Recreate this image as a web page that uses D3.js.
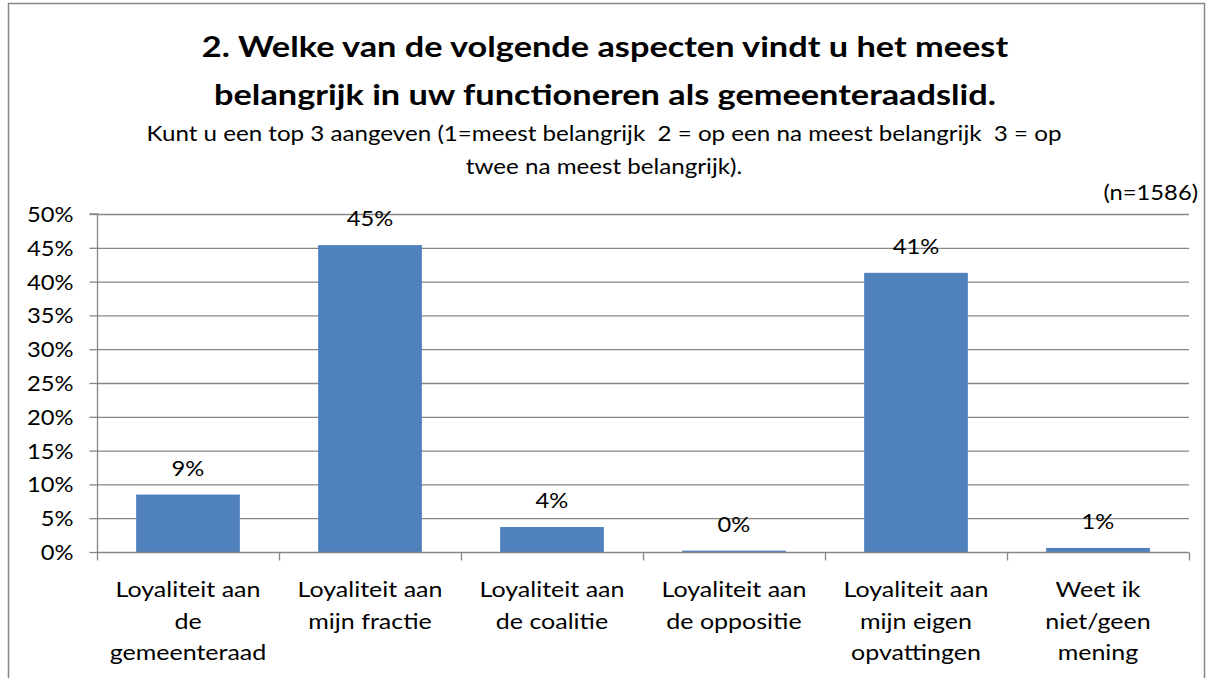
<!DOCTYPE html>
<html><head><meta charset="utf-8">
<script src="https://cdn.jsdelivr.net/npm/d3@7"></script>
<style>body{margin:0;background:#fff}svg text{font-family:Lato,"Open Sans",sans-serif;fill:#000;white-space:pre}</style>
</head><body>
<svg id="c" width="1208" height="678"></svg>
<script>
const categories = [
  ["Loyaliteit aan","de","gemeenteraad"],
  ["Loyaliteit aan","mijn fractie"],
  ["Loyaliteit aan","de coalitie"],
  ["Loyaliteit aan","de oppositie"],
  ["Loyaliteit aan","mijn eigen","opvattingen"],
  ["Weet ik","niet/geen","mening"]
];
const values = [8.5, 45.4, 3.7, 0.2, 41.3, 0.6];
const yTicks = [0,5,10,15,20,25,30,35,40,45,50];
const titleLines = ["2. Welke van de volgende aspecten vindt u het meest","belangrijk in uw functioneren als gemeenteraadslid."];
const subtitleLines = ["Kunt u een top 3 aangeven (1=meest belangrijk  2 = op een na meest belangrijk  3 = op","twee na meest belangrijk)."];
const nLabel = "(n=1586)";

const svg = d3.select("#c");
function stretch(sel, f){
  sel.each(function(){
    const l = this.getComputedTextLength();
    this.setAttribute("textLength", l*f);
    this.setAttribute("lengthAdjust","spacingAndGlyphs");
  });
}
const FS = "21px", SF = 1.13;

// outer border
svg.append("rect").attr("x",8.5).attr("y",3.5).attr("width",1196).attr("height",690)
  .attr("fill","none").attr("stroke","#868686").attr("stroke-width",1.5);

const L=97, R=1189, T=214, B=552;
const x = d3.scaleBand().domain(d3.range(categories.length)).range([L,R]).paddingInner(0.43).paddingOuter(0.215);
const xb = d3.scaleBand().domain(d3.range(categories.length)).range([L,R]);
const y = d3.scaleLinear().domain([0,50]).range([B,T]);

// gridlines
svg.append("g").selectAll("line").data(yTicks.filter(d=>d>0)).join("line")
  .attr("x1",L).attr("x2",R).attr("y1",d=>y(d)+0.5).attr("y2",d=>y(d)+0.5)
  .attr("stroke","#868686").attr("stroke-width",1.3);

// y axis
const ya = svg.append("g").attr("transform",`translate(${L+0.5},0)`)
  .call(d3.axisLeft(y).tickValues(yTicks).tickFormat(d=>d+"%").tickSize(8).tickPadding(16));
ya.select(".domain").attr("stroke","#868686").attr("stroke-width",1.3).attr("d",`M-8,${T}H0V${B}`);
ya.selectAll(".tick line").attr("stroke","#868686").attr("stroke-width",1.3);
ya.selectAll(".tick text").style("font-size",FS).attr("dy","0.36em").attr("font-family",null);
stretch(ya.selectAll(".tick text"), SF);

// bars
svg.append("g").selectAll("rect").data(values).join("rect")
  .attr("x",(d,i)=>x(i)).attr("width",x.bandwidth())
  .attr("y",d=>y(d)).attr("height",d=>B-y(d)).attr("fill","#4F81BD");

// x axis
const xa = svg.append("g").attr("transform",`translate(0,${B+0.5})`);
xa.append("line").attr("x1",L).attr("x2",R).attr("stroke","#868686").attr("stroke-width",1.3);
xa.selectAll("line.t").data(d3.range(categories.length+1)).join("line").attr("class","t")
  .attr("x1",i=>L+i*xb.step()+0.5).attr("x2",i=>L+i*xb.step()+0.5).attr("y1",0).attr("y2",8)
  .attr("stroke","#868686").attr("stroke-width",1.3);
const catG = svg.append("g");
categories.forEach((lines,i)=>{
  lines.forEach((s,j)=>catG.append("text").attr("text-anchor","middle").style("font-size",FS)
    .attr("x",xb(i)+xb.bandwidth()/2).attr("y",597+j*31.5).text(s));
});
stretch(catG.selectAll("text"), 1.19);

// data labels
const dl = svg.append("g").selectAll("text").data(values).join("text")
  .attr("x",(d,i)=>x(i)+x.bandwidth()/2).attr("y",d=>y(d)-19)
  .attr("text-anchor","middle").style("font-size",FS).text(d=>Math.round(d)+"%");
stretch(dl, SF);

// title
const tg = svg.append("g");
titleLines.forEach((s,j)=>tg.append("text").attr("x",605).attr("y",57+j*48).attr("text-anchor","middle")
  .style("font-size","28px").style("font-weight","bold").text(s));
stretch(tg.selectAll("text"), 1.225);
const sg = svg.append("g");
subtitleLines.forEach((s,j)=>sg.append("text").attr("x",604).attr("y",141+j*33).attr("text-anchor","middle")
  .style("font-size",FS).text(s));
stretch(sg.selectAll("text"), 1.15);
const nl = svg.append("text").attr("x",1198).attr("y",200).attr("text-anchor","end").style("font-size",FS).text(nLabel);
stretch(nl, SF);
</script>
</body></html>
